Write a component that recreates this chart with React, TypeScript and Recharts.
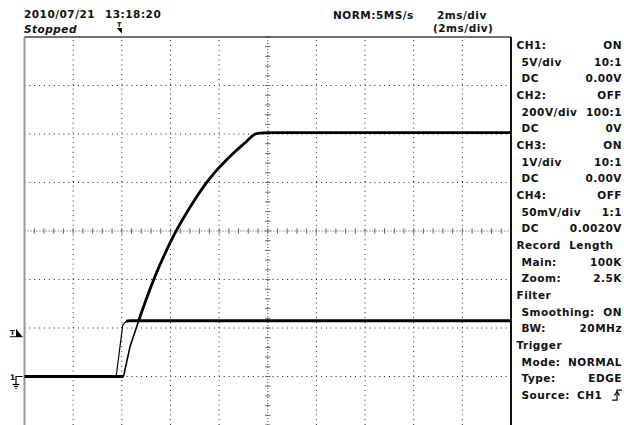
import { LineChart, Line, XAxis, YAxis, ReferenceLine, ReferenceDot } from 'recharts';

const W = 624;
const H = 425;

// 2 ms/div across 10 divisions, 8 vertical divisions
const timeDivs = [0, 2, 4, 6, 8, 10, 12, 14, 16, 18, 20];
const levelDivs = [-4, -3, -2, -1, 0, 1, 2, 3, 4];
const minorPerDiv = 5;

// CH1 (5 V/div): fast step
const ch1BaseT = [0, 3.77];
const ch1BaseV = [0, 0];
const ch1EdgeT = [3.77, 4.04, 4.18];
const ch1EdgeV = [0, 5.33, 5.69];
const ch1TopT = [4.18, 4.34, 20];
const ch1TopV = [5.69, 5.76, 5.76];

// CH3 (1 V/div): charging curve
const ch3BaseT = [0, 4.07];
const ch3BaseV = [0, 0];
const ch3RiseT = [4.07, 4.34, 4.68];
const ch3RiseV = [0, 0.62, 1.13];
const ch3CurveT = [4.68, 4.96, 5.37, 5.78, 6.19, 6.61, 7.02, 7.43, 7.84, 8.25, 8.66, 9.07, 9.49, 9.69, 10.02, 20];
const ch3CurveV = [1.13, 1.53, 2.07, 2.54, 2.96, 3.33, 3.66, 3.96, 4.22, 4.44, 4.64, 4.82, 5.0, 5.02, 5.03, 5.03];

const triggerTime = 4.0;
const triggerLevel = 4.1;

const panel = [
  { title: 'CH1:', value: 'ON', items: [['5V/div', '10:1'], ['DC', '0.00V']] },
  { title: 'CH2:', value: 'OFF', items: [['200V/div', '100:1'], ['DC', '0V']] },
  { title: 'CH3:', value: 'ON', items: [['1V/div', '10:1'], ['DC', '0.00V']] },
  { title: 'CH4:', value: 'OFF', items: [['50mV/div', '1:1'], ['DC', '0.0020V']] },
  { title: 'Record\u00a0\u00a0Length', value: '', items: [['Main:', '100K'], ['Zoom:', '2.5K']] },
  { title: 'Filter', value: '', items: [['Smoothing:', 'ON'], ['BW:', '20MHz']] },
  { title: 'Trigger', value: '', items: [['Mode:', 'NORMAL'], ['Type:', 'EDGE'], ['Source:', '']] },
];

const font = "'DejaVu Sans', sans-serif";

const rows = (ts: number[], vs: number[]) => ts.map((t, i) => ({ t, v: vs[i] }));

const minorTimes: number[] = [];
for (let i = 0; i <= (timeDivs.length - 1) * minorPerDiv; i++) minorTimes.push((i * 2) / minorPerDiv);
const minorLevels: number[] = [];
for (let i = 0; i <= (levelDivs.length - 1) * minorPerDiv; i++) minorLevels.push(-4 + i / minorPerDiv);

const TopTrigger = (p: any) => {
  const { cx, cy } = p;
  return (
    <g>
      <text x={cx - 2.5} y={cy - 10.5} fontSize={6.5} fontFamily={font} fontWeight="bold" textAnchor="middle" fill="#000">T</text>
      <polygon points={`${cx - 5},${cy - 9} ${cx},${cy - 9} ${cx},${cy - 3.5}`} fill="#000" />
    </g>
  );
};

const LevelMarker = (p: any) => {
  const { cy } = p;
  return (
    <g>
      <text x={10} y={cy - 1.5} fontSize={7} fontFamily={font} fontWeight="bold" fill="#000">T</text>
      <line x1={10} x2={22.5} y1={cy} y2={cy} stroke="#000" strokeWidth={1} />
      <polygon points={`${16},${cy - 8} ${16},${cy} ${22.5},${cy}`} fill="#000" />
    </g>
  );
};

const GroundMarker = (p: any) => {
  const { cy } = p;
  return (
    <g stroke="#000" strokeWidth={1.2} fill="none">
      <text x={10} y={cy + 3} fontSize={7.5} fontFamily={font} fontWeight="bold" fill="#000" stroke="none">1</text>
      <path d={`M22.5,${cy} H16 V${cy + 8}`} />
      <line x1={12.5} x2={19.5} y1={cy + 8} y2={cy + 8} />
      <line x1={14} x2={18} y1={cy + 10} y2={cy + 10} />
      <line x1={15.3} x2={16.7} y1={cy + 12} y2={cy + 12} />
    </g>
  );
};

export default function App() {
  const gridCommon = { xAxisId: 'time', yAxisId: 'div', ifOverflow: 'visible' as const };
  let line = 0;
  const panelText: any[] = [];
  panel.forEach((s, si) => {
    const y = 45 + line * 16.67 + 4;
    panelText.push(
      <text key={`h${si}`} x={516.5} y={y}>{s.title}</text>,
      <text key={`hv${si}`} x={622} y={y} textAnchor="end">{s.value}</text>
    );
    line++;
    s.items.forEach((it, ii) => {
      const yy = 45 + line * 16.67 + 4;
      panelText.push(
        <text key={`i${si}-${ii}`} x={521.5} y={yy}>{it[0]}</text>,
        <text key={`iv${si}-${ii}`} x={622} y={yy} textAnchor="end">{it[1]}</text>
      );
      line++;
    });
  });
  const srcY = 45 + (line - 1) * 16.67;

  return (
    <div style={{ position: 'absolute', left: 0, top: 0, width: W, height: H, background: '#fff' }}>
      <LineChart width={W} height={H} margin={{ top: 37, right: 113, bottom: 0, left: 24.5 }}>
        <XAxis xAxisId="time" dataKey="t" type="number" domain={[0, 20]} allowDataOverflow hide />
        <YAxis yAxisId="div" type="number" domain={[-4, 4]} allowDataOverflow hide />
        {/* both channels have their ground 3 divisions below centre */}
        <YAxis yAxisId="ch1" type="number" domain={[-5, 35]} allowDataOverflow hide />
        <YAxis yAxisId="ch3" type="number" domain={[-1, 7]} allowDataOverflow hide />

        {timeDivs.filter((t) => t > 0 && t < 20 && t !== 10).map((t) => (
          <ReferenceLine key={`vx${t}`} {...gridCommon} x={t} stroke="#222" strokeDasharray="1 3.86" />
        ))}
        {levelDivs.filter((d) => d > -4 && d < 4 && d !== 0).map((d) => (
          <ReferenceLine key={`hy${d}`} {...gridCommon} y={d} stroke="#222" strokeDasharray="1 3.86" />
        ))}
        <ReferenceLine {...gridCommon} x={10} stroke="#444" strokeDasharray="1 2" />
        <ReferenceLine {...gridCommon} y={0} stroke="#444" strokeDasharray="1 2" />
        {minorTimes.map((t) => (
          <ReferenceLine key={`mt${t}`} {...gridCommon} stroke="#666" segment={[{ x: t, y: -0.055 }, { x: t, y: 0.055 }]} />
        ))}
        {minorLevels.map((d) => (
          <ReferenceLine key={`ml${d}`} {...gridCommon} stroke="#666" segment={[{ x: 9.89, y: d }, { x: 10.11, y: d }]} />
        ))}

        <ReferenceLine {...gridCommon} x={0} stroke="#999" strokeWidth={2} />
        <ReferenceLine {...gridCommon} y={4} stroke="#444" strokeWidth={1.5} />
        <ReferenceLine {...gridCommon} x={20} stroke="#111" strokeWidth={2} />

        <Line data={rows(ch3BaseT, ch3BaseV)} xAxisId="time" yAxisId="ch3" dataKey="v" type="linear" stroke="#000" strokeWidth={3} dot={false} isAnimationActive={false} />
        <Line data={rows(ch3RiseT, ch3RiseV)} xAxisId="time" yAxisId="ch3" dataKey="v" type="linear" stroke="#000" strokeWidth={1.6} dot={false} isAnimationActive={false} />
        <Line data={rows(ch3CurveT, ch3CurveV)} xAxisId="time" yAxisId="ch3" dataKey="v" type="monotone" stroke="#000" strokeWidth={2.8} dot={false} isAnimationActive={false} />
        <Line data={rows(ch1BaseT, ch1BaseV)} xAxisId="time" yAxisId="ch1" dataKey="v" type="linear" stroke="#000" strokeWidth={3} dot={false} isAnimationActive={false} />
        <Line data={rows(ch1EdgeT, ch1EdgeV)} xAxisId="time" yAxisId="ch1" dataKey="v" type="linear" stroke="#000" strokeWidth={1.2} dot={false} isAnimationActive={false} />
        <Line data={rows(ch1TopT, ch1TopV)} xAxisId="time" yAxisId="ch1" dataKey="v" type="linear" stroke="#000" strokeWidth={3} dot={false} isAnimationActive={false} />

        <ReferenceDot xAxisId="time" yAxisId="div" x={triggerTime} y={4} ifOverflow="visible" shape={TopTrigger} />
        <ReferenceDot xAxisId="time" yAxisId="ch1" x={0} y={triggerLevel} ifOverflow="visible" shape={LevelMarker} />
        <ReferenceDot xAxisId="time" yAxisId="ch1" x={0} y={0} ifOverflow="visible" shape={GroundMarker} />
      </LineChart>

      <svg width={W} height={H} style={{ position: 'absolute', left: 0, top: 0, pointerEvents: 'none' }}
        fontFamily={font} fontSize={10.5} fontWeight="bold" fill="#111" letterSpacing={0.5}>
        <text x={24} y={18}>2010/07/21</text>
        <text x={105} y={18}>13:18:20</text>
        <text x={24} y={33} fontStyle="italic">Stopped</text>
        <text x={333} y={19}>NORM:5MS/s</text>
        <text x={437} y={19}>2ms/div</text>
        <text x={433} y={32}>(2ms/div)</text>
        {panelText}
        <text x={577} y={srcY + 4}>CH1</text>
        <g stroke="#111" strokeWidth={1.2} fill="none">
          <path d={`M612,${srcY + 5} H617 V${srcY - 5} H622`} />
          <path d={`M614.5,${srcY + 0.5} L617,${srcY - 3.5} L619.5,${srcY + 0.5}`} />
        </g>
      </svg>
    </div>
  );
}
